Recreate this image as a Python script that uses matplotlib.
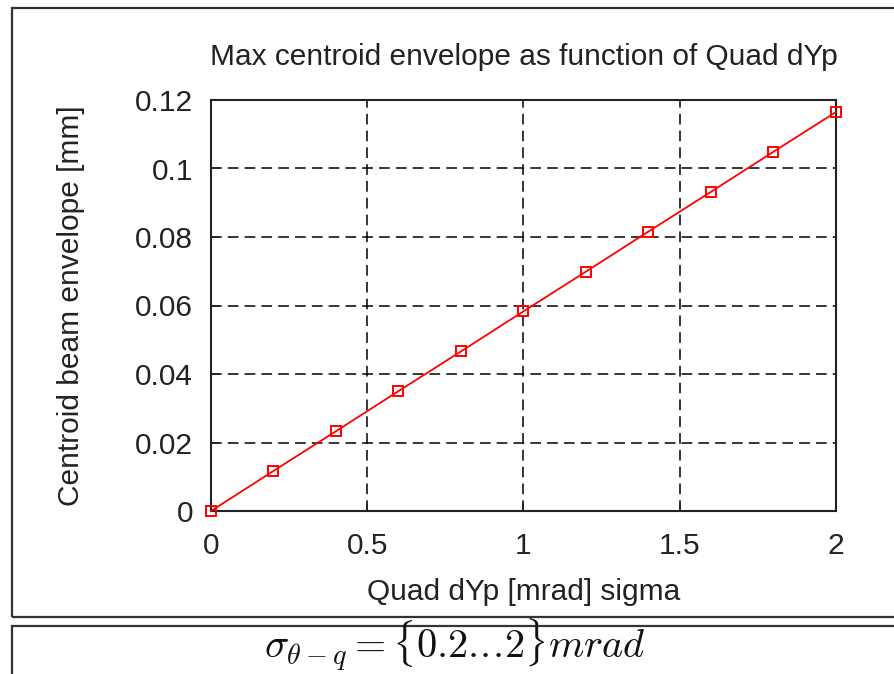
import matplotlib
matplotlib.use("Agg")
import matplotlib.pyplot as plt
from matplotlib.patches import Rectangle

plt.rcParams['font.family'] = ['Liberation Sans', 'DejaVu Sans']
plt.rcParams['mathtext.fontset'] = 'cm'

x_vals = [0.0, 0.2, 0.4, 0.6, 0.8, 1.0, 1.2, 1.4, 1.6, 1.8, 2.0]
y_vals = [0.0, 0.0117, 0.0233, 0.0350, 0.0466, 0.0583, 0.0699, 0.0816, 0.0932, 0.1049, 0.1165]
x_ticks = [0, 0.5, 1, 1.5, 2]
x_tick_labels = ['0', '0.5', '1', '1.5', '2']
y_ticks = [0, 0.02, 0.04, 0.06, 0.08, 0.1, 0.12]
y_tick_labels = ['0', '0.02', '0.04', '0.06', '0.08', '0.1', '0.12']

W, H = 895, 674
fig = plt.figure(figsize=(W / 100, H / 100), dpi=100)

def fx(px):
    return px / W
def fy(py):
    return 1 - py / H

fig.patches.append(Rectangle((fx(12), fy(617)), fx(900) - fx(12), fy(8) - fy(617),
                             transform=fig.transFigure, fill=False, edgecolor='#333333', lw=1.6))
fig.patches.append(Rectangle((fx(12), fy(690)), fx(900) - fx(12), fy(626) - fy(690),
                             transform=fig.transFigure, fill=False, edgecolor='#333333', lw=1.6))

ax = fig.add_axes([fx(211), fy(511), fx(836) - fx(211), fy(100) - fy(511)])
ax.plot(x_vals, y_vals, color='red', lw=1.3, marker='s', markersize=7,
        markerfacecolor='none', markeredgecolor='red', markeredgewidth=1.4, clip_on=False, zorder=3)
ax.set_xlim(0, 2)
ax.set_ylim(0, 0.12)
ax.set_xticks(x_ticks)
ax.set_xticklabels(x_tick_labels)
ax.set_yticks(y_ticks)
ax.set_yticklabels(y_tick_labels)
ax.grid(True, color='black', linestyle=(0, (7, 4)), lw=1.1)
ax.tick_params(axis='both', labelsize=21.5, colors='#222222', direction='in', length=6, width=1.2)
ax.tick_params(axis='y', pad=13)
ax.tick_params(axis='x', pad=15)
for s in ax.spines.values():
    s.set_linewidth(1.5)
    s.set_color('#222222')
ax.set_title('Max centroid envelope as function of Quad dYp', fontsize=21.5, color='#222222', pad=25)
ax.set_xlabel('Quad dYp [mrad] sigma', fontsize=21.5, color='#222222', labelpad=13)
ax.set_ylabel('Centroid beam envelope [mm]', fontsize=21.5, color='#222222', labelpad=36)

fig.text(fx(455), fy(645), r'$\sigma_{\theta-q}=\{0.2.\!.\!.\!2\}mrad$', fontsize=29,
         ha='center', va='center', color='#111111')

fig.savefig('out.png', dpi=100)
